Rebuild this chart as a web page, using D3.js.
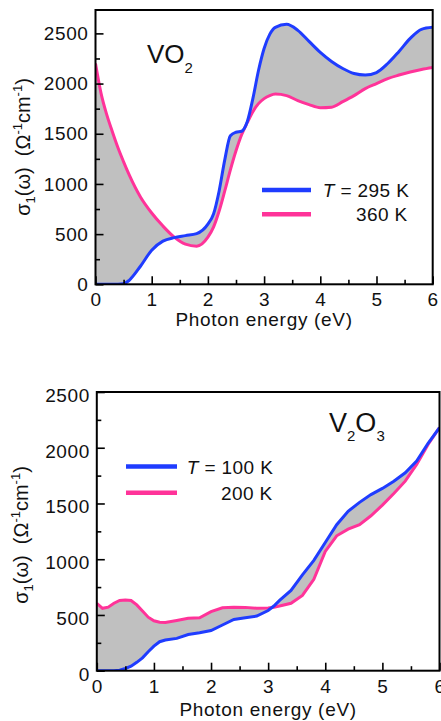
<!DOCTYPE html>
<html><head><meta charset="utf-8">
<script src="https://cdn.jsdelivr.net/npm/d3@7/dist/d3.min.js"></script>
<style>
body{margin:0;background:#fff}
svg text{font-family:"Liberation Sans",Arial,sans-serif;fill:#111}
</style></head><body>
<svg id="c" width="441" height="721"></svg>
<script>
// ---------- data ----------
const energyVO2 = [0,0.1,0.2,0.3,0.4,0.5,0.6,0.8,1.0,1.2,1.4,1.6,1.8,2.0,2.1,2.2,2.3,2.4,2.5,2.6,2.7,2.8,2.9,3.0,3.1,3.2,3.4,3.6,3.8,4.0,4.2,4.4,4.6,4.8,5.0,5.2,5.4,5.6,5.8,6.0];
const vo2_295K = [0,0,0,0,0,5,40,180,340,430,465,485,505,600,700,930,1240,1480,1515,1525,1620,1850,2130,2350,2490,2560,2590,2530,2420,2310,2220,2150,2100,2085,2110,2200,2320,2450,2540,2560];
const vo2_360K = [2200,1900,1690,1520,1360,1220,1090,870,710,580,470,400,380,470,570,730,930,1140,1330,1490,1610,1720,1800,1850,1880,1895,1880,1830,1790,1760,1765,1820,1880,1950,2000,2050,2085,2115,2140,2160];

const energyV2O3 = [0,0.1,0.2,0.3,0.4,0.5,0.6,0.7,0.8,0.9,1.0,1.1,1.2,1.4,1.6,1.8,2.0,2.2,2.4,2.6,2.8,3.0,3.1,3.2,3.4,3.6,3.8,4.0,4.2,4.4,4.6,4.8,5.0,5.2,5.4,5.6,5.8,6.0];
const v2o3_100K = [0,0,0,0,5,20,40,75,115,170,220,260,275,290,325,340,360,410,460,475,490,540,580,630,720,860,990,1150,1310,1430,1510,1580,1635,1700,1775,1880,2040,2180];
const v2o3_200K = [605,560,570,605,630,635,630,590,535,480,448,435,432,450,470,475,530,565,570,568,560,562,570,580,605,675,820,1070,1210,1270,1310,1390,1485,1590,1700,1850,2030,2180];

const xMajorTicks = [0,1,2,3,4,5,6];
const xMinorTicks = [0.5,1.5,2.5,3.5,4.5,5.5];
const yMajorTicks = [0,500,1000,1500,2000,2500];
const yMinorTicks = [250,750,1250,1750,2250];
const legendVO2 = ["295 K","360 K"];
const legendV2O3 = ["100 K","200 K"];
const xTitle = "Photon energy (eV)";

// ---------- drawing ----------
const BLUE = "#1f3cff", PINK = "#ff3399", GRAY = "#c0c0c0";
const svg = d3.select("#c");

function panel(cfg){
  const g = svg.append("g");
  const x = d3.scaleLinear().domain([0,6]).range([cfg.x0,cfg.x1]);
  const y = d3.scaleLinear().domain([0,cfg.ymax]).range([cfg.yb,cfg.yt]);
  const data = cfg.energy.map((e,i)=>({e, a:cfg.s1[i], b:cfg.s2[i]}));
  const cid = "clip"+cfg.id;
  g.append("clipPath").attr("id",cid).append("rect")
    .attr("x",x(0)).attr("y",y(cfg.ymax)).attr("width",x(6)-x(0)).attr("height",y(0)-y(cfg.ymax));
  const pg = g.append("g").attr("clip-path",`url(#${cid})`);
  const curve = cfg.curve;
  pg.append("path").datum(data).attr("fill",GRAY)
    .attr("d", d3.area().x(d=>x(d.e)).y0(d=>y(d.a)).y1(d=>y(d.b)).curve(curve));
  pg.append("path").datum(data).attr("fill","none").attr("stroke",PINK).attr("stroke-width",3)
    .attr("d", d3.line().x(d=>x(d.e)).y(d=>y(d.b)).curve(curve));
  pg.append("path").datum(data).attr("fill","none").attr("stroke",BLUE).attr("stroke-width",3)
    .attr("d", d3.line().x(d=>x(d.e)).y(d=>y(d.a)).curve(curve));

  // axes
  const fs = "19px";
  const ax = g.append("g").attr("transform",`translate(0,${cfg.yb})`)
    .call(d3.axisBottom(x).tickValues(xMajorTicks).tickSize(-8).tickPadding(cfg.xPad).tickFormat(d3.format("d")));
  const axm = g.append("g").attr("transform",`translate(0,${cfg.yb})`)
    .call(d3.axisBottom(x).tickValues(xMinorTicks).tickSize(-4.5).tickFormat(""));
  const ay = g.append("g").attr("transform",`translate(${cfg.x0},0)`)
    .call(d3.axisLeft(y).tickValues(yMajorTicks).tickSize(-8).tickPadding(7).tickFormat(d3.format("d")));
  const aym = g.append("g").attr("transform",`translate(${cfg.x0},0)`)
    .call(d3.axisLeft(y).tickValues(yMinorTicks).tickSize(-4.5).tickFormat(""));
  [ax,axm,ay,aym].forEach(a=>{
    a.select(".domain").remove();
    a.selectAll("line").attr("stroke","#000").attr("stroke-width",1.6);
    a.selectAll("text").attr("font-size",fs).attr("letter-spacing","0.6px").attr("fill","#111")
      .attr("font-family","'Liberation Sans',Arial,sans-serif");
  });
  ay.selectAll("text").attr("dy", cfg.yLabDy);

  // frame
  g.append("rect").attr("x",x(0)).attr("y",y(cfg.ymax)).attr("width",x(6)-x(0)).attr("height",y(0)-y(cfg.ymax))
    .attr("fill","none").attr("stroke","#000").attr("stroke-width",2);

  // x title
  g.append("text").attr("x",(x(0)+x(6))/2 + cfg.titleDx).attr("y",cfg.yb+cfg.titleOff).attr("text-anchor","middle")
    .attr("font-size","19px").attr("letter-spacing","0.7px").text(xTitle);

  // y title
  const yt = g.append("text")
    .attr("transform",`translate(${cfg.ylabX},${cfg.ylabY}) rotate(-90)`)
    .attr("text-anchor","middle").attr("font-size","20px").attr("fill","#333");
  yt.append("tspan").text("σ");
  yt.append("tspan").attr("font-size","13px").attr("dy","5").text("1");
  yt.append("tspan").attr("dy","-5").text("(ω)\u00a0\u00a0(Ω");
  yt.append("tspan").attr("font-size","13px").attr("dy","-8").text("-1");
  yt.append("tspan").attr("dy","8").text("cm");
  yt.append("tspan").attr("font-size","13px").attr("dy","-8").text("-1");
  yt.append("tspan").attr("dy","8").text(")");

  // legend
  const L = cfg.legend;
  [[BLUE,L.y1],[PINK,L.y2]].forEach(([c,yy])=>{
    g.append("line").attr("x1",L.lx1).attr("x2",L.lx2).attr("y1",yy).attr("y2",yy)
      .attr("stroke",c).attr("stroke-width",4.5);
  });
  const t1 = g.append("text").attr("x",L.tx).attr("y",L.y1+7).attr("font-size","19px").attr("letter-spacing","0.4px");
  t1.append("tspan").attr("font-style","italic").text("T");
  t1.append("tspan").text(" = " + cfg.leg[0]);
  g.append("text").attr("x",L.tx2).attr("y",L.y2+7).attr("font-size","19px").attr("letter-spacing","0.4px").text(cfg.leg[1]);

  // compound label
  const cl = g.append("text").attr("x",cfg.comp.x).attr("y",cfg.comp.y).attr("font-size",cfg.comp.fs);
  cfg.comp.parts.forEach(p=>{
    cl.append("tspan").attr("font-size",p.sub?"15px":cfg.comp.fs).attr("dy",p.dy).text(p.t);
  });
}

panel({id:1, energy:energyVO2, s1:vo2_295K, s2:vo2_360K, curve:d3.curveMonotoneX,
  x0:95.5, x1:432.7, yb:284.3, yt:10, ymax:2733, xPad:8, yLabDy:"0.32em", titleOff:42, titleDx:0,
  ylabX:30, ylabY:147,
  legend:{lx1:262, lx2:311, y1:190, y2:214.3, tx:322.7, tx2:356}, leg:legendVO2,
  comp:{x:147, y:63, fs:"26px", parts:[{t:"VO",dy:0},{t:"2",dy:10,sub:true}]}});

panel({id:2, energy:energyV2O3, s1:v2o3_100K, s2:v2o3_200K, curve:d3.curveLinear,
  x0:96.8, x1:439.5, yb:670.7, yt:392, ymax:2500, xPad:9, yLabDy:"0.5em", titleOff:45, titleDx:0,
  ylabX:28, ylabY:535,
  legend:{lx1:126, lx2:177, y1:466.5, y2:492.7, tx:186.7, tx2:221}, leg:legendV2O3,
  comp:{x:329, y:432, fs:"27px", parts:[{t:"V",dy:0},{t:"2",dy:9,sub:true},{t:"O",dy:-9},{t:"3",dy:9,sub:true}]}});
</script>
</body></html>
